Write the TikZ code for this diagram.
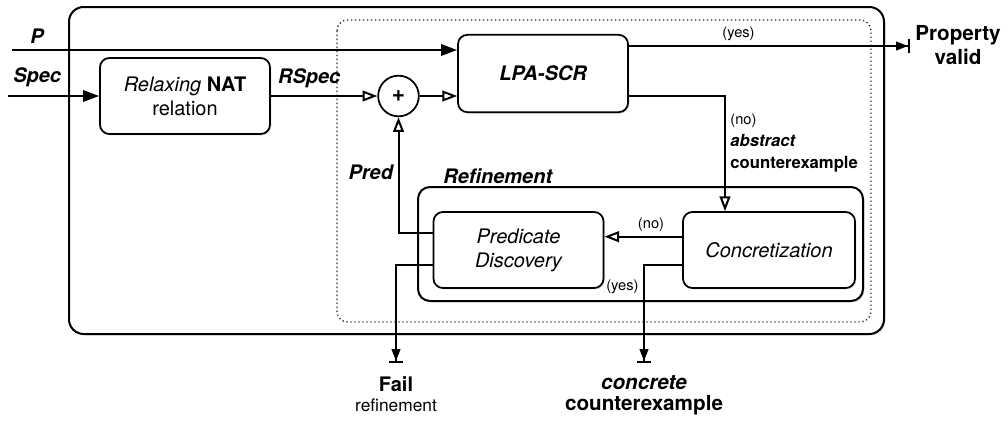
\documentclass[tikz,border=0pt]{standalone}
\usepackage{fontspec}
\setmainfont{TeX Gyre Heros}
\usetikzlibrary{arrows.meta,shadows}
\newcommand{\boxsize}{\fontsize{15}{18}\selectfont}
\newcommand{\tagsize}{\fontsize{11}{13}\selectfont}

\begin{document}
\begin{tikzpicture}[
  x=0.75pt, y=-0.75pt,
  line width=1.5pt,
  boxshadow/.style={drop shadow={shadow xshift=1pt, shadow yshift=-1pt, opacity=0.3}},
  procbox/.style={
    draw,
    fill=white,
    line width=1.3pt,
    rounded corners=7pt,
    align=center,
    minimum width=127.5pt,
    minimum height=57pt,
    font=\boxsize,
    boxshadow
  },
  sumnode/.style={draw, circle, fill=white, line width=1.3pt, inner sep=0pt, minimum size=30.5pt, font=\fontsize{17}{17}\selectfont\bfseries},
  portlabel/.style={font=\boxsize\bfseries\itshape},
  taglabel/.style={font=\tagsize},
  flowarrow/.style={-{Triangle[length=12pt,width=8.5pt]}},
  openarrow/.style={-{Triangle[open,length=11pt,width=8pt]}},
  stoparrow/.style={-{Triangle[length=9pt,width=6.5pt]Bar[width=10pt]}}
]
\useasboundingbox (0,0) rectangle (1007,421);
% containers
\draw[rounded corners=11pt, fill=white, boxshadow] (69,7) rectangle (884,334);
\draw[dotted, line width=1pt, black!80, rounded corners=8pt] (337,20) rectangle (871,322);
\draw[rounded corners=9pt, fill=white, boxshadow] (418,187) rectangle (863,301);
\node[portlabel, anchor=south west, inner sep=1pt] (reftitle) at (441,186) {Refinement};
% blocks
\node[procbox] (relax) at (185,96) {\textit{Relaxing} \textbf{NAT}\\relation};
\node[sumnode] (plus) at (398.5,96) {+};
\node[procbox, minimum height=58pt, font=\boxsize\bfseries\itshape] (lpa) at (543,73.5) {LPA-SCR};
\node[procbox, font=\boxsize\itshape] (pred) at (518.5,250) {Predicate\\Discovery};
\node[procbox, minimum width=129pt, font=\boxsize\itshape] (conc) at (769,250) {Concretization};
% outcomes
\node[font=\fontsize{15.5}{18}\selectfont\bfseries, align=center] (valid) at (958,45) {Property\\valid};
\node[font=\fontsize{13}{15}\selectfont, align=center] (fail) at (396,394) {{\fontsize{15}{15}\selectfont\bfseries Fail}\\refinement};
\node[font=\fontsize{15.5}{16}\selectfont\bfseries, align=center] (concex) at (644,395) {\textit{concrete}\\counterexample};
% connector ends
\coordinate (pin) at (12,50);
\coordinate (specin) at (8,96);
\coordinate (noturn) at (725,96);
\coordinate (validend) at (910,46);
\coordinate (failend) at (396,363);
\coordinate (concend) at (644,363);
\coordinate (noleft) at ([yshift=10pt]conc.west);
% connectors
\draw[flowarrow] (pin) -- (pin -| lpa.west) node[pos=0.056, above, yshift=1pt, portlabel] {P};
\draw[flowarrow] (specin) -- (relax.west) node[pos=0.32, above, yshift=3pt, portlabel] {Spec};
\draw[openarrow] (relax.east) -- (plus.west) node[pos=0.36, above, yshift=2pt, portlabel] {RSpec};
\draw[openarrow] (plus.east) -- (plus -| lpa.west);
\draw[stoparrow] (lpa.east |- validend) -- (validend) node[pos=0.39, above, taglabel] {(yes)};
\draw[openarrow] (lpa.east |- noturn) -- (noturn) -- (noturn |- conc.north)
  node[pos=0.41, right, align=left, font=\fontsize{12.5}{16.5}\selectfont] {{\tagsize (no)}\\\textbf{\textit{abstract}}\\\textbf{counterexample}};
\draw[openarrow] (noleft) -- (noleft -| pred.east) node[pos=0.4, above, taglabel] {(no)};
\draw[openarrow] ([yshift=13pt]pred.west) -| (plus.south) node[pos=0.76, left, portlabel] {Pred};
\draw[stoparrow] ([yshift=-11pt]pred.west) -| (failend);
\draw[stoparrow] ([yshift=-11pt]conc.west) -| (concend) node[pos=0.61, left, taglabel] {(yes)};
\end{tikzpicture}
\end{document}
